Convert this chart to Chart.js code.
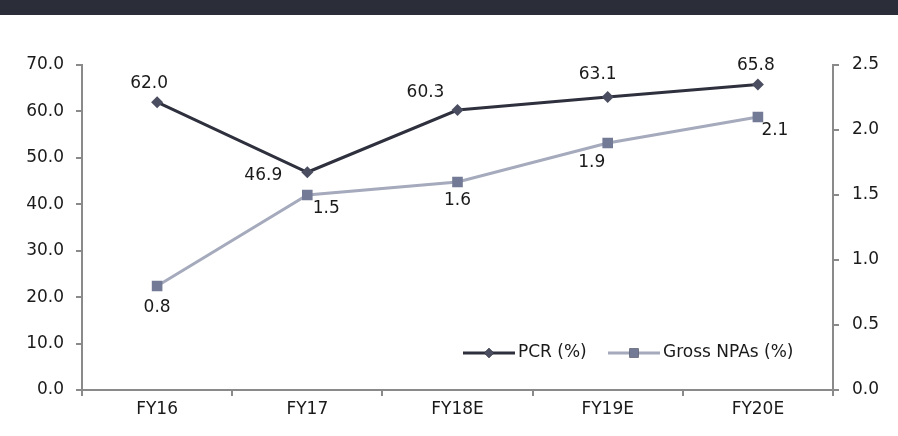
<!DOCTYPE html>
<html>
<head>
<meta charset="utf-8">
<script src="https://cdn.jsdelivr.net/npm/chart.js@4.4.1/dist/chart.umd.min.js"></script>
<style>
  html, body { margin: 0; padding: 0; background: #ffffff; }
  #wrap { width: 898px; height: 436px; position: relative; }
</style>
</head>
<body>
<div id="wrap"><canvas id="c" width="898" height="436"></canvas></div>
<script>
// Fiscal years on the x axis
const categories = ['FY16', 'FY17', 'FY18E', 'FY19E', 'FY20E'];
// Provision coverage ratio, left axis
const pcrValues = [62.0, 46.9, 60.3, 63.1, 65.8];
// Gross NPAs, right axis
const grossNpaValues = [0.8, 1.5, 1.6, 1.9, 2.1];
// Axis tick labels
const leftTicks = [0, 10, 20, 30, 40, 50, 60, 70];
const rightTicks = [0, 0.5, 1.0, 1.5, 2.0, 2.5];

const FONT = '"DejaVu Sans", sans-serif';
const FONT_SIZE = 17;
const TEXT = '#1a1a1a';
const AXIS = '#8a8a8a';

// Value label offsets (dx, dy) from each point, per dataset
const labelOffsets = [
  [[-8, -19], [-44, 3], [-32, -17], [-10, -22], [-2, -19]],
  [[0, 22], [19, 14], [0, 19], [-16, 20], [17, 14]]
];

const valueLabels = {
  id: 'valueLabels',
  afterDatasetsDraw(chart) {
    const ctx = chart.ctx;
    ctx.save();
    ctx.font = FONT_SIZE + 'px ' + FONT;
    ctx.fillStyle = TEXT;
    ctx.textAlign = 'center';
    ctx.textBaseline = 'middle';
    chart.data.datasets.forEach((ds, di) => {
      const meta = chart.getDatasetMeta(di);
      meta.data.forEach((pt, i) => {
        const off = labelOffsets[di][i];
        ctx.fillText(ds.data[i].toFixed(1), pt.x + off[0], pt.y + off[1]);
      });
    });
    ctx.restore();
  }
};

// Legend inside the plot: line + marker + text for each series
const inlineLegend = {
  id: 'inlineLegend',
  afterDraw(chart) {
    const ctx = chart.ctx;
    const y = 353;
    const items = [
      { ds: chart.data.datasets[0], x: 463, text: 'PCR (%)', r: 5 },
      { ds: chart.data.datasets[1], x: 608, text: 'Gross NPAs (%)', r: 6.5 }
    ];
    ctx.save();
    items.forEach(it => {
      ctx.strokeStyle = it.ds.borderColor;
      ctx.lineWidth = it.ds.borderWidth;
      ctx.beginPath();
      ctx.moveTo(it.x, y);
      ctx.lineTo(it.x + 52, y);
      ctx.stroke();
      Chart.helpers.drawPoint(ctx, {
        pointStyle: it.ds.pointStyle,
        radius: it.r,
        borderWidth: 0,
        rotation: 0
      }, it.x + 26, y);
      ctx.fillStyle = it.ds.pointBackgroundColor;
      ctx.fill();
      ctx.fillStyle = TEXT;
      ctx.font = FONT_SIZE + 'px ' + FONT;
      ctx.textAlign = 'left';
      ctx.textBaseline = 'middle';
      ctx.fillText(it.text, it.x + 55, y);
    });
    ctx.restore();
  }
};

// Dark title band across the top
const topBand = {
  id: 'topBand',
  beforeDraw(chart) {
    const ctx = chart.ctx;
    ctx.save();
    ctx.fillStyle = '#2b2d38';
    ctx.fillRect(0, 0, chart.width, 15);
    ctx.restore();
  }
};

new Chart(document.getElementById('c'), {
  type: 'line',
  data: {
    labels: categories,
    datasets: [
      {
        label: 'PCR (%)',
        data: pcrValues,
        yAxisID: 'y',
        borderColor: '#2e303d',
        borderWidth: 3,
        pointStyle: 'rectRot',
        pointRadius: 6,
        pointBackgroundColor: '#4a4e60',
        pointBorderWidth: 0,
        tension: 0
      },
      {
        label: 'Gross NPAs (%)',
        data: grossNpaValues,
        yAxisID: 'y1',
        borderColor: '#a5aabc',
        borderWidth: 3,
        pointStyle: 'rect',
        pointRadius: 7.5,
        pointBackgroundColor: '#737a95',
        pointBorderWidth: 0,
        tension: 0
      }
    ]
  },
  options: {
    responsive: false,
    animation: false,
    events: [],
    layout: { padding: { top: 65, left: 0, right: 0, bottom: 0 } },
    plugins: {
      legend: { display: false },
      tooltip: { enabled: false },
      title: { display: false }
    },
    scales: {
      x: {
        offset: true,
        grid: { offset: true, drawOnChartArea: false, color: AXIS, lineWidth: 2, tickLength: 6 },
        border: { color: AXIS, width: 2 },
        ticks: { color: TEXT, font: { family: FONT, size: FONT_SIZE }, padding: 3 },
        afterFit(s) { s.height = 46; }
      },
      y: {
        position: 'left',
        min: 0, max: 70,
        afterBuildTicks(s) { s.ticks = leftTicks.map(v => ({ value: v })); },
        grid: { drawOnChartArea: false, color: AXIS, lineWidth: 2, tickLength: 6 },
        border: { color: AXIS, width: 2 },
        ticks: { color: TEXT, font: { family: FONT, size: FONT_SIZE }, padding: 12,
                 callback: v => Number(v).toFixed(1) },
        afterFit(s) { s.width = 82; }
      },
      y1: {
        position: 'right',
        min: 0, max: 2.5,
        afterBuildTicks(s) { s.ticks = rightTicks.map(v => ({ value: v })); },
        grid: { drawOnChartArea: false, color: AXIS, lineWidth: 2, tickLength: 6 },
        border: { color: AXIS, width: 2 },
        ticks: { color: TEXT, font: { family: FONT, size: FONT_SIZE }, padding: 13,
                 callback: v => Number(v).toFixed(1) },
        afterFit(s) { s.width = 65; }
      }
    }
  },
  plugins: [topBand, valueLabels, inlineLegend]
});
</script>
</body>
</html>
